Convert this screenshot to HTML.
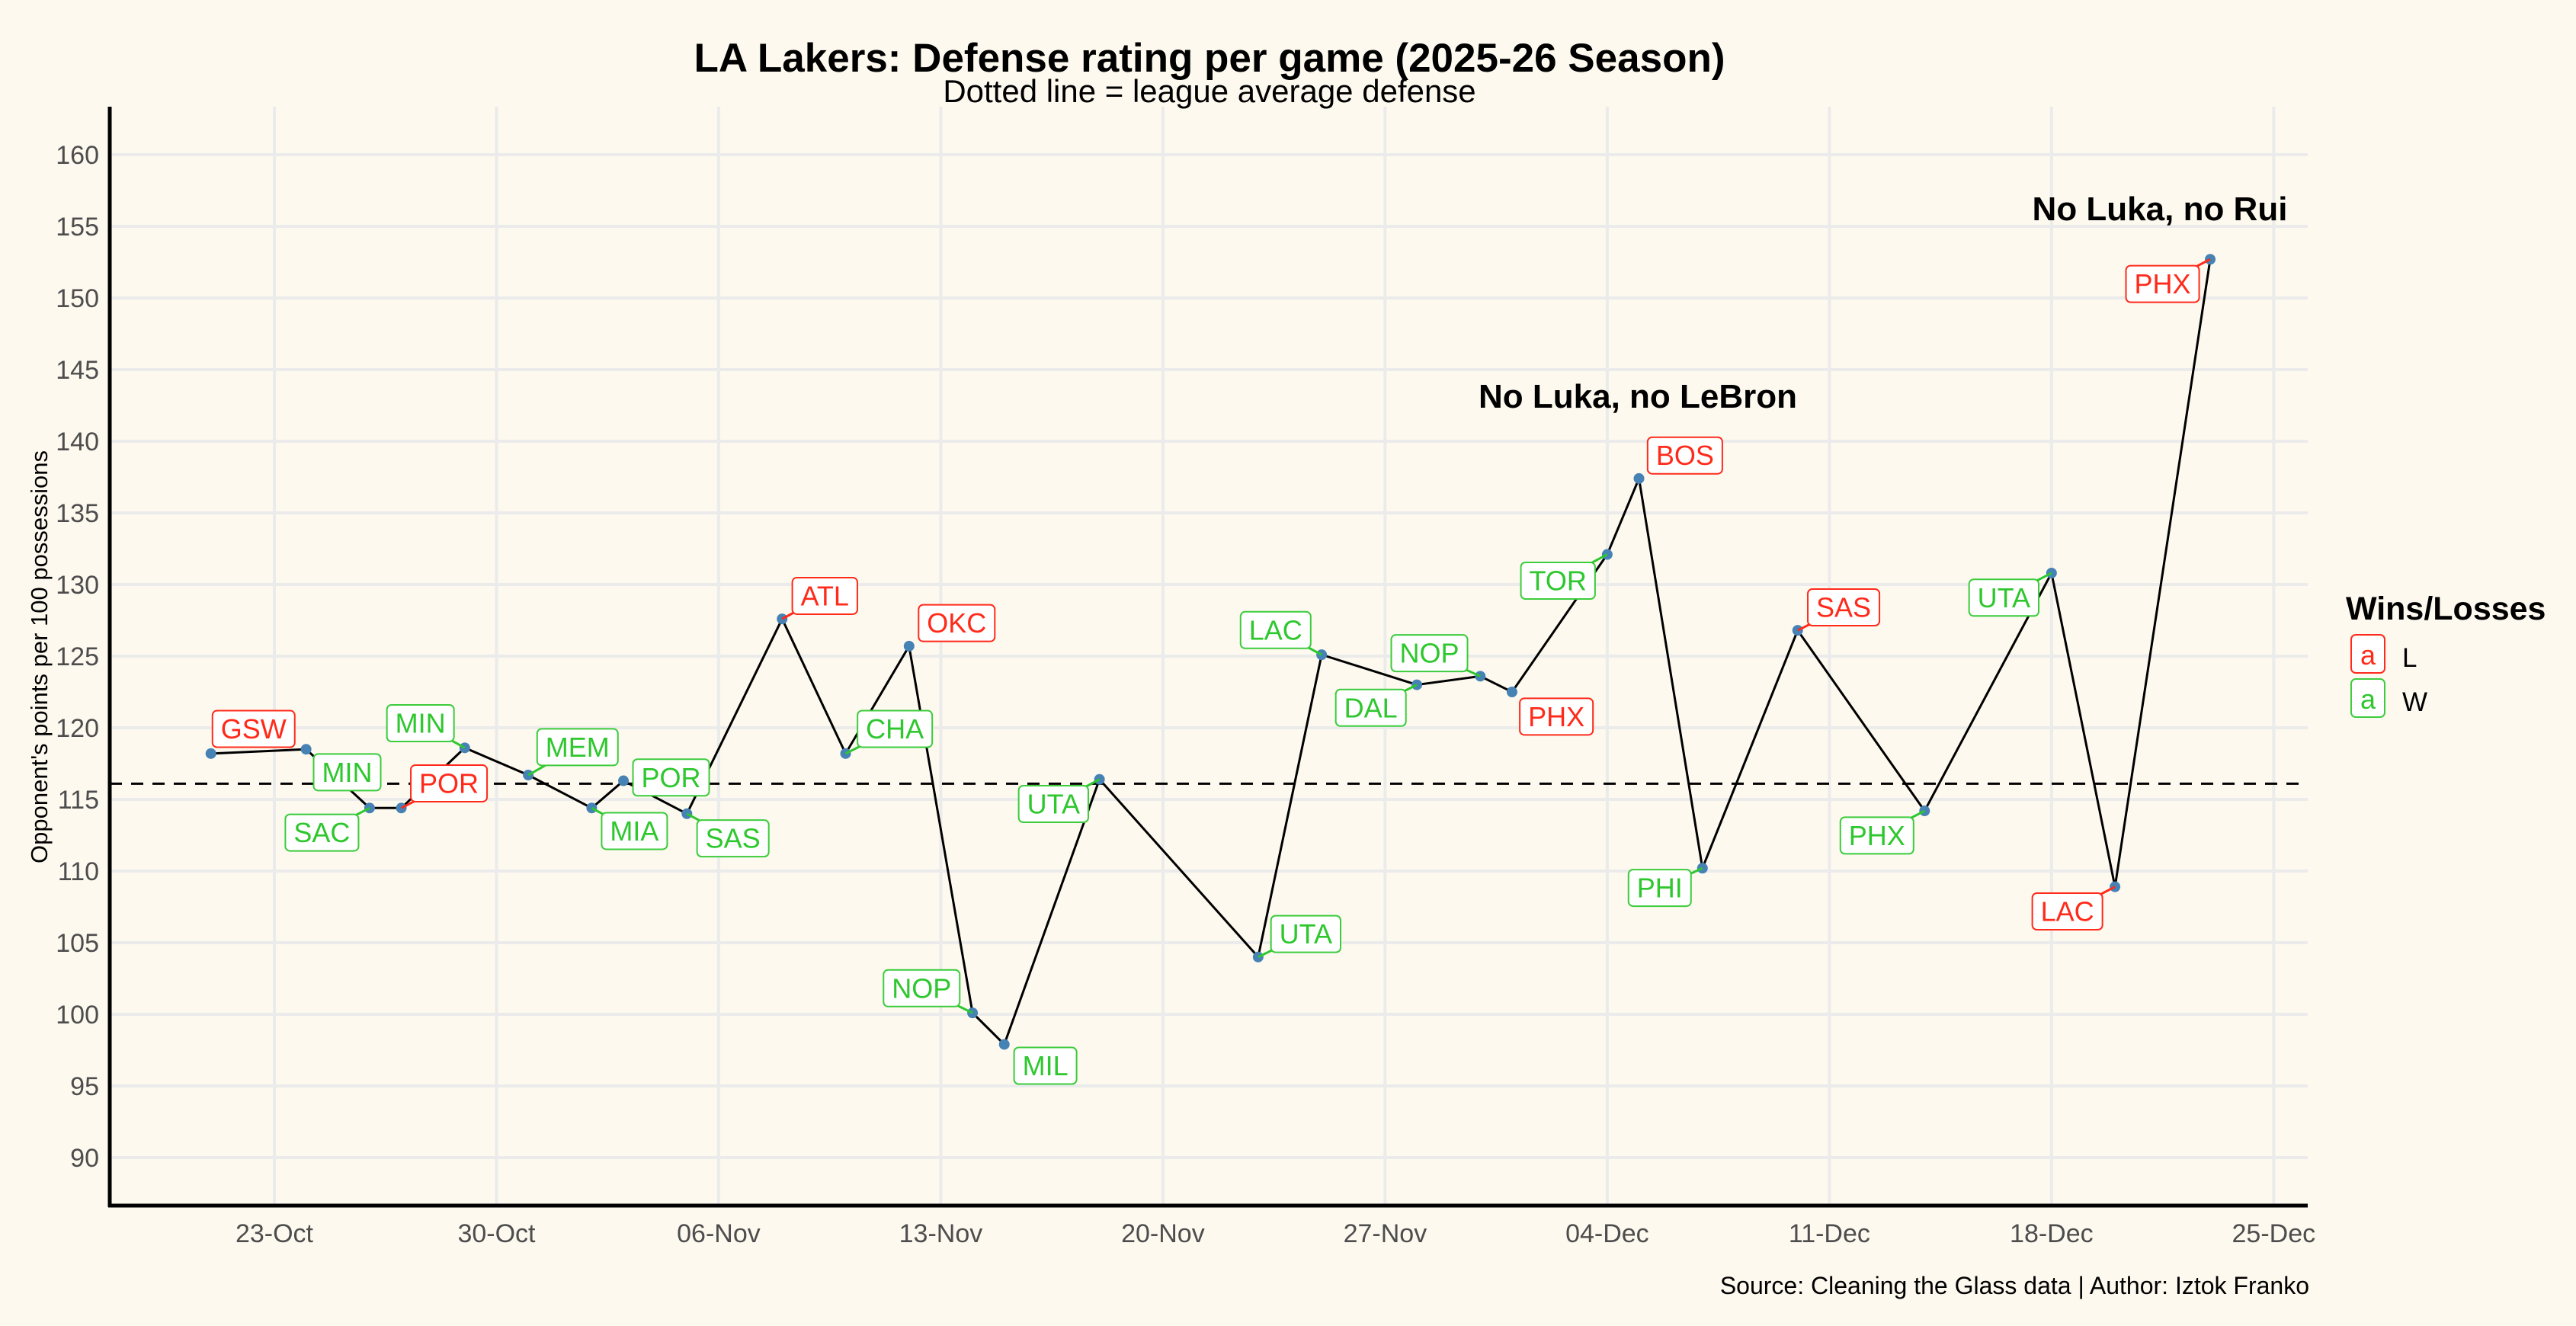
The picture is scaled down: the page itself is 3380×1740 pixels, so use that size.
<!DOCTYPE html>
<html><head><meta charset="utf-8"><style>
html,body{margin:0;padding:0;background:#fdf9ef;}
svg{display:block;font-family:"Liberation Sans",sans-serif;}
</style></head><body>
<svg id="chart" width="3380" height="1740" viewBox="0 0 3380 1740" xmlns="http://www.w3.org/2000/svg">
<rect x="0" y="0" width="3380" height="1740" fill="#fdf9ef"/>
<text x="1587" y="94" font-size="53" font-weight="bold" text-anchor="middle">LA Lakers: Defense rating per game (2025-26 Season)</text>
<text x="1587" y="134" font-size="42" text-anchor="middle">Dotted line = league average defense</text>
<g id="grid"></g>
<g id="axes"></g>
<g id="series"></g>
<g id="labels"></g>
<text transform="translate(62,862) rotate(-90)" font-size="31" text-anchor="middle">Opponent's points per 100 possessions</text>
<text x="2149" y="535" font-size="44" font-weight="bold" text-anchor="middle">No Luka, no LeBron</text>
<text x="2834" y="289" font-size="44" font-weight="bold" text-anchor="middle">No Luka, no Rui</text>
<text x="3030" y="1698" font-size="32" text-anchor="end">Source: Cleaning the Glass data | Author: Iztok Franko</text>
<g>
<text x="3078" y="813" font-size="43" font-weight="bold">Wins/Losses</text>
<g>
<rect x="3085" y="833" width="44" height="50" rx="6" fill="#fff" stroke="#ff2a1a" stroke-width="2"/>
<text x="3107" y="872" font-size="36" fill="#ff2a1a" text-anchor="middle">a</text>
<text x="3152" y="875" font-size="35">L</text>
</g>
<g>
<rect x="3085" y="891" width="44" height="50" rx="6" fill="#fff" stroke="#3ccc3c" stroke-width="2"/>
<text x="3107" y="930" font-size="36" fill="#2ec72e" text-anchor="middle">a</text>
<text x="3152" y="933" font-size="35">W</text>
</g>
</g>
</svg>
<script>
const dates = ["2025-10-21","2025-10-24","2025-10-26","2025-10-27","2025-10-29","2025-10-31","2025-11-02","2025-11-03","2025-11-05","2025-11-08","2025-11-10","2025-11-12","2025-11-14","2025-11-15","2025-11-18","2025-11-23","2025-11-25","2025-11-28","2025-11-30","2025-12-01","2025-12-04","2025-12-05","2025-12-07","2025-12-10","2025-12-14","2025-12-18","2025-12-20","2025-12-23"];
const ratings = [118.2,118.5,114.4,114.4,118.6,116.7,114.4,116.3,114.0,127.6,118.2,125.7,100.1,97.9,116.4,104.0,125.1,123.0,123.6,122.5,132.1,137.4,110.2,126.8,114.2,130.8,108.9,152.7];
const opponents = ["GSW","MIN","SAC","POR","MIN","MEM","MIA","POR","SAS","ATL","CHA","OKC","NOP","MIL","UTA","UTA","LAC","DAL","NOP","PHX","TOR","BOS","PHI","SAS","PHX","UTA","LAC","PHX"];
const results = ["L","W","W","L","W","W","W","W","W","L","W","L","W","W","W","W","W","W","W","L","W","L","W","L","W","W","L","L"];
const leagueAverage = 116.1;
const yTicks = [90,95,100,105,110,115,120,125,130,135,140,145,150,155,160];
const xTickLabels = ["23-Oct","30-Oct","06-Nov","13-Nov","20-Nov","27-Nov","04-Dec","11-Dec","18-Dec","25-Dec"];
const xTickDates = ["2025-10-23","2025-10-30","2025-11-06","2025-11-13","2025-11-20","2025-11-27","2025-12-04","2025-12-11","2025-12-18","2025-12-25"];
// label nudges (layout, not data)
const labelNudge = [[26,-15],[25,14],[-29,15],[29,-15],[-27,-15],[30,-17],[26,14],[29,-2],[28,15],[26,-14],[30,-15],[29,-14],[-31,-15],[25,13],[-28,15],[29,-14],[-28,-15],[-28,14],[-31,-14],[27,15],[-30,16],[28,-14],[-26,12],[28,-14],[-29,15],[-29,15],[-29,15],[-29,15]];

const NS="http://www.w3.org/2000/svg";
const L=144,R=3028,T=140,B=1582;
const base=Date.UTC(2025,9,23);
function dayOf(s){const p=s.split("-");return (Date.UTC(+p[0],+p[1]-1,+p[2])-base)/86400000;}
function x(s){return 360+dayOf(s)*41.64;}
function y(v){return 1519-(v-90)*18.8;}
function mk(tag,attrs,parent){const e=document.createElementNS(NS,tag);for(const k in attrs)e.setAttribute(k,attrs[k]);parent.appendChild(e);return e;}
const grid=document.getElementById("grid"),axes=document.getElementById("axes"),series=document.getElementById("series"),labels=document.getElementById("labels");

yTicks.forEach(v=>{
  const ln=mk("line",{x1:L,x2:R,y1:y(v),y2:y(v),stroke:"#ebebeb","stroke-width":4},grid);
  
  
  const t=mk("text",{x:130,y:y(v)+12,"font-size":34,fill:"#4d4d4d","text-anchor":"end"},axes);
  t.textContent=v;
  
  
});
xTickDates.forEach((d,i)=>{
  const ln=mk("line",{x1:x(d),x2:x(d),y1:T,y2:B,stroke:"#ebebeb","stroke-width":4},grid);
  
  
  const t=mk("text",{x:x(d),y:1630,"font-size":34,fill:"#4d4d4d","text-anchor":"middle"},axes);
  t.textContent=xTickLabels[i];
  
  
});
const ya=mk("line",{x1:L,x2:L,y1:T,y2:B+2,stroke:"#000","stroke-width":5},axes);


const xa=mk("line",{x1:L-2,x2:R,y1:B,y2:B,stroke:"#000","stroke-width":5},axes);



const avg=mk("line",{x1:L,x2:R,y1:y(leagueAverage),y2:y(leagueAverage),stroke:"#000","stroke-width":3,"stroke-dasharray":"16 12"},series);



const pts=dates.map((d,i)=>[x(d),y(ratings[i])]);
const path=mk("polyline",{points:pts.map(p=>p.join(",")).join(" "),fill:"none",stroke:"#000","stroke-width":3},series);



pts.forEach((p,i)=>{
  const c=mk("circle",{cx:p[0],cy:p[1],r:7,fill:"#4682b4"},series);
  
  
});

pts.forEach((p,i)=>{
  const col=results[i]==="L"?"#ff2a1a":"#2ec72e";
  const bcol=results[i]==="L"?"#ff2a1a":"#3ccc3c";
  const cx=p[0]+labelNudge[i][0]*2.155, cy=p[1]+labelNudge[i][1]*2.155;
  const g=mk("g",{},labels);
  
  
  const seg=mk("line",{x1:p[0],y1:p[1],x2:cx,y2:cy,stroke:col,"stroke-width":3},g);
  
  
  const rect=mk("rect",{fill:"#fff",stroke:bcol,"stroke-width":2,rx:6},g);
  
  
  const t=mk("text",{x:cx,y:cy+12.5,"font-size":36,fill:col,"text-anchor":"middle"},g);
  t.textContent=opponents[i];
  
  
  const w=t.getComputedTextLength()+22, h=48;
  rect.setAttribute("x",cx-w/2);rect.setAttribute("y",cy-24);
  rect.setAttribute("width",w);rect.setAttribute("height",h);
  const gx=Math.max(0,Math.abs(p[0]-cx)-w/2), gy=Math.max(0,Math.abs(p[1]-cy)-h/2);
  if(Math.hypot(gx,gy)<14) seg.setAttribute("visibility","hidden");
});
</script>
</body></html>
